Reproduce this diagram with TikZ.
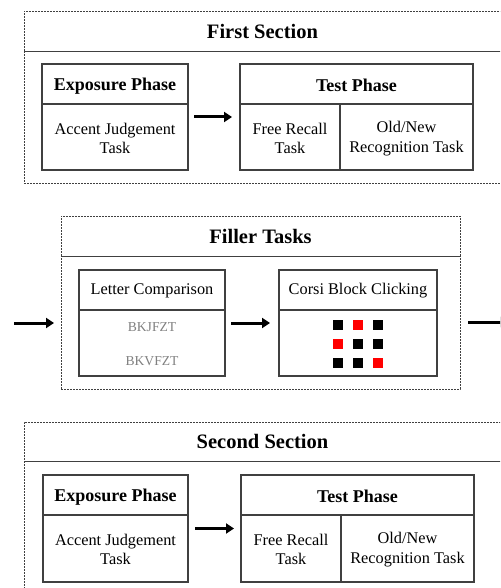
\documentclass[tikz,border=0pt]{standalone}
\usepackage{fontspec}
\setmainfont{Liberation Serif}
\usetikzlibrary{arrows.meta}
\tikzset{
  dbox/.style={draw=black!75, line width=0.8pt, dash pattern=on 2pt off 1pt, inner sep=0pt, outer sep=0pt, anchor=north west},
  sbox/.style={draw=black!75, line width=1.2pt, inner sep=0pt, outer sep=0pt, anchor=north west},
  divl/.style={draw=black!75, line width=1.2pt},
  arr/.style={line width=3pt, -{Triangle[length=8pt,width=10pt]}},
  ttl/.style={font=\fontsize{20.5}{24}\selectfont\bfseries, inner sep=0pt},
  hdb/.style={font=\fontsize{18}{21}\selectfont\bfseries, inner sep=0pt},
  txt/.style={font=\fontsize{16.3}{19.3}\selectfont, align=center, inner sep=0pt},
  let/.style={font=\fontsize{13.6}{16}\selectfont, text=black!50, inner sep=0pt},
  blk/.style={fill=black, minimum size=10pt, inner sep=0pt},
  red/.style={fill=red, minimum size=10pt, inner sep=0pt},
}
\begin{document}
\begin{tikzpicture}[x=1pt, y=-1pt]
\useasboundingbox (0,0) rectangle (500,588);
\clip (0,0) rectangle (500,588);
% ---------- First Section ----------
\node[dbox, minimum width=477pt, minimum height=40pt] (s1t) at (24,11) {};
\node[ttl] at (s1t.center) {First Section};
\node[dbox, minimum width=477pt, minimum height=132pt] (s1b) at (24,51) {};
\node[sbox, minimum width=146pt, minimum height=106pt] (e1) at (42,64) {};
\draw[divl] (42,104) -- (188,104);
\node[hdb] (e1h) at (115,86.5) {Exposure Phase};
\node[txt] (e1b) at (115,138.5) {Accent Judgement\\Task};
\node[sbox, minimum width=233pt, minimum height=106pt] (t1) at (240,64) {};
\draw[divl] (240,104) -- (473,104);
\draw[divl] (340,104) -- (340,170);
\node[hdb] (t1h) at (356.5,85.5) {Test Phase};
\node[txt] (t1a) at (290,138.5) {Free Recall\\Task};
\node[txt] (t1b) at (406.5,138.5) {Old/New\\Recognition Task};
\draw[arr] ([xshift=6pt]e1.east) -- ([xshift=-8pt]t1.west);
% ---------- Filler Tasks ----------
\node[dbox, minimum width=399pt, minimum height=40pt] (ft) at (61,216) {};
\node[ttl] at (ft.center) {Filler Tasks};
\node[dbox, minimum width=399pt, minimum height=133pt] (fb) at (61,256) {};
\node[sbox, minimum width=146pt, minimum height=106pt] (lc) at (79,270) {};
\draw[divl] (79,310) -- (225,310);
\node[txt] (lch) at (152,290.5) {Letter Comparison};
\node[let] (w1) at (152,327) {BKJFZT};
\node[let] (w2) at (152,361) {BKVFZT};
\node[sbox, minimum width=158pt, minimum height=106pt] (cb) at (279,270) {};
\draw[divl] (279,310) -- (437,310);
\node[txt] (cbh) at (358,290.5) {Corsi Block Clicking};
\node[blk] (q11) at (338,325) {};
\node[red] (q12) at (358,325) {};
\node[blk] (q13) at (378,325) {};
\node[red] (q21) at (338,344) {};
\node[blk] (q22) at (358,344) {};
\node[blk] (q23) at (378,344) {};
\node[blk] (q31) at (338,363) {};
\node[blk] (q32) at (358,363) {};
\node[red] (q33) at (378,363) {};
\draw[arr] ([xshift=6pt]lc.east) -- ([xshift=-9pt]cb.west);
\coordinate (inS) at (14,323);
\coordinate (inE) at (54,323);
\draw[arr] (inS) -- (inE);
\coordinate (outS) at (468,322);
\coordinate (outE) at (508,322);
\draw[arr] (outS) -- (outE);
% ---------- Second Section ----------
\node[dbox, minimum width=477pt, minimum height=39pt] (s2t) at (24,422) {};
\node[ttl] at (s2t.center) {Second Section};
\node[dbox, minimum width=477pt, minimum height=150pt] (s2b) at (24,461) {};
\node[sbox, minimum width=145pt, minimum height=107pt] (e2) at (43,475) {};
\draw[divl] (43,515) -- (188,515);
\node[hdb] (e2h) at (115.5,497.5) {Exposure Phase};
\node[txt] (e2b) at (115.5,549.5) {Accent Judgement\\Task};
\node[sbox, minimum width=233pt, minimum height=107pt] (t2) at (241,475) {};
\draw[divl] (241,515) -- (474,515);
\draw[divl] (341,515) -- (341,582);
\node[hdb] (t2h) at (357.5,496.5) {Test Phase};
\node[txt] (t2a) at (291,549.5) {Free Recall\\Task};
\node[txt] (t2b) at (407.5,549.5) {Old/New\\Recognition Task};
\draw[arr] ([xshift=7pt]e2.east) -- ([xshift=-7pt]t2.west);
\end{tikzpicture}
\end{document}
